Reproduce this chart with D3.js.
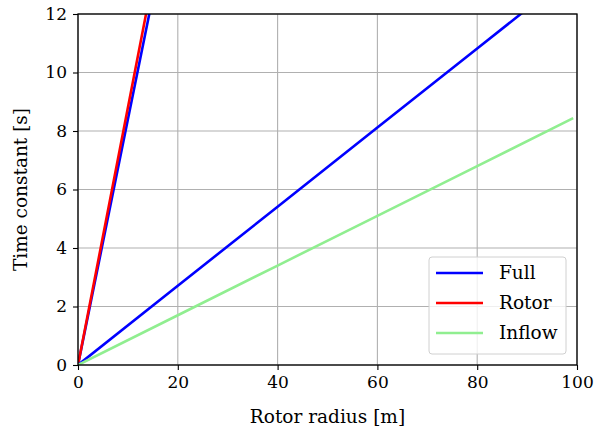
<!DOCTYPE html>
<html>
<head>
<meta charset="utf-8">
<script src="https://cdn.jsdelivr.net/npm/d3@7"></script>
<style>
  body { margin: 0; background: #fff; }
</style>
</head>
<body>
<div id="chart"></div>
<script>
// rotor radius [m]
const radius = [0, 20, 40, 60, 80, 99];
// time constants [s]
const fullSteep = [0, 16.8, 33.6, 50.4, 67.2, 83.2];
const rotor = [0, 17.6, 35.2, 52.8, 70.4, 87.2];
const fullShallow = [0, 2.71, 5.41, 8.12, 10.82, 13.39];
const inflow = [0, 1.70, 3.40, 5.10, 6.80, 8.42];

const xTicks = [0, 20, 40, 60, 80, 100];
const yTicks = [0, 2, 4, 6, 8, 10, 12];

const series = [
    { name: 'Full', values: fullSteep, color: '#0000ff', legend: true },
    { name: 'Rotor', values: rotor, color: '#ff0000', legend: true },
    { name: 'Full', values: fullShallow, color: '#0000ff', legend: false },
    { name: 'Inflow', values: inflow, color: '#90ee90', legend: true }
];

const FONT = '"DejaVu Serif", serif';
const width = 594, height = 434;
const margin = { top: 14, right: 17, bottom: 69, left: 78 };

const svg = d3.select('#chart').append('svg')
    .attr('width', width)
    .attr('height', height);

const x = d3.scaleLinear().domain([0, 100]).range([margin.left, width - margin.right]);
const y = d3.scaleLinear().domain([0, 12]).range([height - margin.bottom, margin.top]);

svg.append('clipPath').attr('id', 'clip')
    .append('rect')
    .attr('x', margin.left).attr('y', margin.top)
    .attr('width', x(100) - x(0)).attr('height', y(0) - y(12));

// grid
svg.append('g')
    .selectAll('line')
    .data(xTicks)
    .join('line')
    .attr('x1', d => x(d)).attr('x2', d => x(d))
    .attr('y1', y(0)).attr('y2', y(12))
    .attr('stroke', '#b0b0b0').attr('stroke-width', 1.1);

svg.append('g')
    .selectAll('line')
    .data(yTicks)
    .join('line')
    .attr('y1', d => y(d)).attr('y2', d => y(d))
    .attr('x1', x(0)).attr('x2', x(100))
    .attr('stroke', '#b0b0b0').attr('stroke-width', 1.1);

const line = d3.line()
    .x((d, i) => x(radius[i]))
    .y(d => y(d));

svg.append('g')
    .attr('clip-path', 'url(#clip)')
    .selectAll('path')
    .data(series)
    .join('path')
    .attr('fill', 'none')
    .attr('stroke', d => d.color)
    .attr('stroke-width', 2.6)
    .attr('stroke-linecap', 'square')
    .attr('d', d => line(d.values));

// axes
const xAxis = svg.append('g')
    .attr('transform', `translate(0,${y(0)})`)
    .call(d3.axisBottom(x).tickValues(xTicks).tickSizeOuter(0).tickSize(5).tickPadding(6));

const yAxis = svg.append('g')
    .attr('transform', `translate(${x(0)},0)`)
    .call(d3.axisLeft(y).tickValues(yTicks).tickSizeOuter(0).tickSize(5).tickPadding(6));

[xAxis, yAxis].forEach(g => {
    g.attr('font-family', null).attr('font-size', null);
    g.select('.domain').remove();
    g.selectAll('.tick line').attr('stroke', '#000').attr('stroke-width', 1.1);
    g.selectAll('.tick text').attr('fill', '#000')
        .style('font-family', FONT).style('font-size', '17px');
});

// frame
svg.append('rect')
    .attr('x', x(0)).attr('y', y(12))
    .attr('width', x(100) - x(0)).attr('height', y(0) - y(12))
    .attr('fill', 'none').attr('stroke', '#000').attr('stroke-width', 1.3);

svg.append('text')
    .attr('x', (x(0) + x(100)) / 2)
    .attr('y', 423)
    .attr('text-anchor', 'middle')
    .style('font-family', FONT).style('font-size', '18.5px')
    .text('Rotor radius [m]');

svg.append('text')
    .attr('transform', `translate(27,${(y(0) + y(12)) / 2}) rotate(-90)`)
    .attr('text-anchor', 'middle')
    .style('font-family', FONT).style('font-size', '18.5px')
    .text('Time constant [s]');

// legend
const legend = svg.append('g').attr('transform', 'translate(429,257)');
legend.append('rect')
    .attr('width', 137).attr('height', 97)
    .attr('rx', 3)
    .attr('fill', 'rgba(255,255,255,0.8)')
    .attr('stroke', '#d0d0d0');

const items = series.filter(d => d.legend);
const rows = legend.selectAll('g')
    .data(items)
    .join('g')
    .attr('transform', (d, i) => `translate(0,${16 + i * 30})`);

rows.append('line')
    .attr('x1', 7).attr('x2', 54)
    .attr('stroke', d => d.color).attr('stroke-width', 2.6);

rows.append('text')
    .attr('x', 70).attr('y', 6)
    .style('font-family', FONT).style('font-size', '18.5px')
    .text(d => d.name);
</script>
</body>
</html>
